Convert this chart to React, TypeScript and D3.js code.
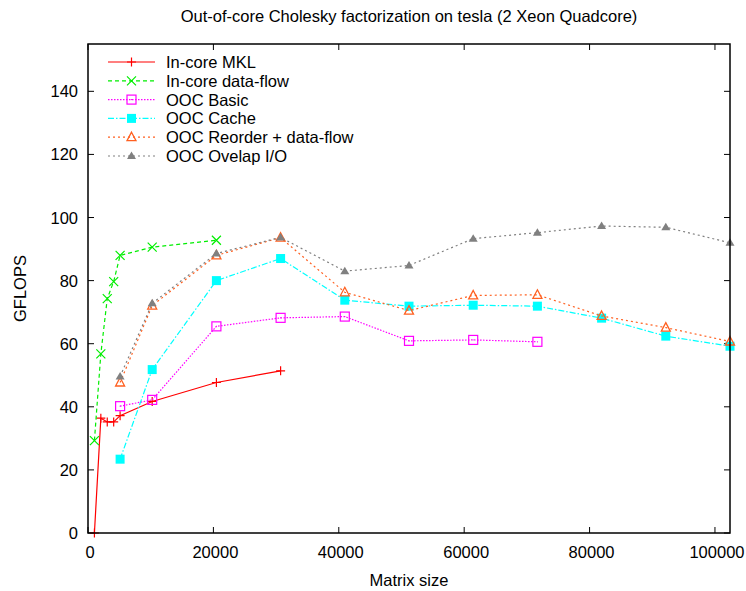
import React from 'react';
import * as d3 from 'd3';

// matrix sizes for each run
const sizesSmall = [1024, 2048, 3072, 4096, 5120, 10240, 20480, 30720];
const sizesDf = [1024, 2048, 3072, 4096, 5120, 10240, 20480];
const sizesBasic = [5120, 10240, 20480, 30720, 40960, 51200, 61440, 71680];
const sizesOoc = [5120, 10240, 20480, 30720, 40960, 51200, 61440, 71680, 81920, 92160, 102400];

const mklValues = [0, 36.4, 35.2, 35.2, 37.2, 41.7, 47.7, 51.4];
const dataflowValues = [29.3, 56.8, 74.3, 79.7, 88.0, 90.6, 92.8];
const basicValues = [40.2, 42.2, 65.5, 68.2, 68.6, 60.9, 61.2, 60.6];
const cacheValues = [23.4, 51.8, 80.0, 87.0, 73.8, 71.9, 72.2, 71.9, 68.1, 62.4, 59.2];
const reorderValues = [47.7, 72.1, 88.0, 93.6, 76.3, 70.5, 75.3, 75.5, 68.8, 65.1, 60.7];
const overlapValues = [49.6, 72.8, 88.6, 93.7, 83.0, 84.8, 93.3, 95.2, 97.3, 96.9, 92.0];

const xTicks = [0, 20000, 40000, 60000, 80000, 100000];
const yTicks = [0, 20, 40, 60, 80, 100, 120, 140];

type Marker = 'plus' | 'cross' | 'openSquare' | 'square' | 'openTriangle' | 'triangle';

const series = [
  { name: 'In-core MKL', xs: sizesSmall, ys: mklValues, color: '#ff0000', dash: '', marker: 'plus' as Marker },
  { name: 'In-core data-flow', xs: sizesDf, ys: dataflowValues, color: '#00ee00', dash: '4,3', marker: 'cross' as Marker },
  { name: 'OOC Basic', xs: sizesBasic, ys: basicValues, color: '#ff00ff', dash: '1.5,1.5', marker: 'openSquare' as Marker },
  { name: 'OOC Cache', xs: sizesOoc, ys: cacheValues, color: '#00ffff', dash: '6,2,1.5,2', marker: 'square' as Marker },
  { name: 'OOC Reorder + data-flow', xs: sizesOoc, ys: reorderValues, color: '#ff6020', dash: '2,3', marker: 'openTriangle' as Marker },
  { name: 'OOC Ovelap I/O', xs: sizesOoc, ys: overlapValues, color: '#808080', dash: '2,3', marker: 'triangle' as Marker },
];

const width = 746;
const height = 591;
const margin = { top: 44, right: 16, bottom: 58, left: 88 };
const font = '"Liberation Sans", Arial, sans-serif';
const fs = 16.5;

function drawMarker(kind: Marker, x: number, y: number, color: string, key: string) {
  const s = 4.5;
  switch (kind) {
    case 'plus':
      return <path key={key} d={`M${x - s},${y}H${x + s}M${x},${y - s}V${y + s}`} stroke={color} strokeWidth={1.2} fill="none" />;
    case 'cross':
      return <path key={key} d={`M${x - s},${y - s}L${x + s},${y + s}M${x - s},${y + s}L${x + s},${y - s}`} stroke={color} strokeWidth={1.2} fill="none" />;
    case 'openSquare':
      return (
        <g key={key}>
          <rect x={x - s} y={y - s} width={2 * s} height={2 * s} stroke={color} strokeWidth={1.2} fill="none" />
          <rect x={x - 0.5} y={y - 0.5} width={1} height={1} fill={color} />
        </g>
      );
    case 'square':
      return <rect key={key} x={x - s} y={y - s} width={2 * s} height={2 * s} fill={color} />;
    case 'openTriangle':
      return <path key={key} d={`M${x},${y - s - 0.5}L${x + s},${y + s - 1}L${x - s},${y + s - 1}Z`} stroke={color} strokeWidth={1.3} fill="none" />;
    case 'triangle':
      return <path key={key} d={`M${x},${y - s}L${x + s},${y + s - 1.5}L${x - s},${y + s - 1.5}Z`} fill={color} />;
  }
}

export default function App() {
  const x = d3.scaleLinear().domain([0, 102400]).range([margin.left, width - margin.right]);
  const y = d3.scaleLinear().domain([0, 155]).range([height - margin.bottom, margin.top]);
  const x0 = margin.left;
  const x1 = width - margin.right;
  const y0 = height - margin.bottom;
  const y1 = margin.top;
  const tick = 6;

  const line = d3.line<[number, number]>().x(d => x(d[0])).y(d => y(d[1]));

  return (
    <svg width={width} height={height} style={{ position: 'absolute', left: 0, top: 0, background: '#fff' }}>
      <text x={(x0 + x1) / 2} y={22} textAnchor="middle" fontFamily={font} fontSize={fs} fill="#000">
        Out-of-core Cholesky factorization on tesla (2 Xeon Quadcore)
      </text>

      {yTicks.map(t => (
        <g key={`y${t}`}>
          <path d={`M${x0},${y(t)}h${tick}M${x1},${y(t)}h${-tick}`} stroke="#000" strokeWidth={1} />
          <text x={x0 - 10} y={y(t) + 6} textAnchor="end" fontFamily={font} fontSize={fs}>{t}</text>
        </g>
      ))}
      {xTicks.map(t => (
        <g key={`x${t}`}>
          <path d={`M${x(t)},${y0}v${-tick}M${x(t)},${y1}v${tick}`} stroke="#000" strokeWidth={1} />
          <text x={x(t) + 2} y={y0 + 25} textAnchor="middle" fontFamily={font} fontSize={fs}>{t}</text>
        </g>
      ))}

      {series.map((s, i) => {
        const pts: [number, number][] = s.xs.map((v, j) => [v, s.ys[j]]);
        return (
          <g key={s.name}>
            <path d={line(pts) || ''} fill="none" stroke={s.color} strokeWidth={1.2} strokeDasharray={s.dash || undefined} />
            {pts.map((p, j) => drawMarker(s.marker, x(p[0]), y(p[1]), s.color, `${i}-${j}`))}
          </g>
        );
      })}

      <rect x={x0} y={y1} width={x1 - x0} height={y0 - y1} fill="none" stroke="#000" strokeWidth={1.5} />

      {series.map((s, i) => {
        const ly = 62 + i * 18.8;
        return (
          <g key={`leg${i}`}>
            <path d={`M108,${ly}H155`} stroke={s.color} strokeWidth={1.2} strokeDasharray={s.dash || undefined} />
            {drawMarker(s.marker, 131.5, ly, s.color, `lm${i}`)}
            <text x={166} y={ly + 6} fontFamily={font} fontSize={fs}>{s.name}</text>
          </g>
        );
      })}

      <text x={(x0 + x1) / 2} y={586} textAnchor="middle" fontFamily={font} fontSize={fs}>Matrix size</text>
      <text transform={`translate(26,${(y0 + y1) / 2}) rotate(-90)`} textAnchor="middle" fontFamily={font} fontSize={fs}>GFLOPS</text>
    </svg>
  );
}
